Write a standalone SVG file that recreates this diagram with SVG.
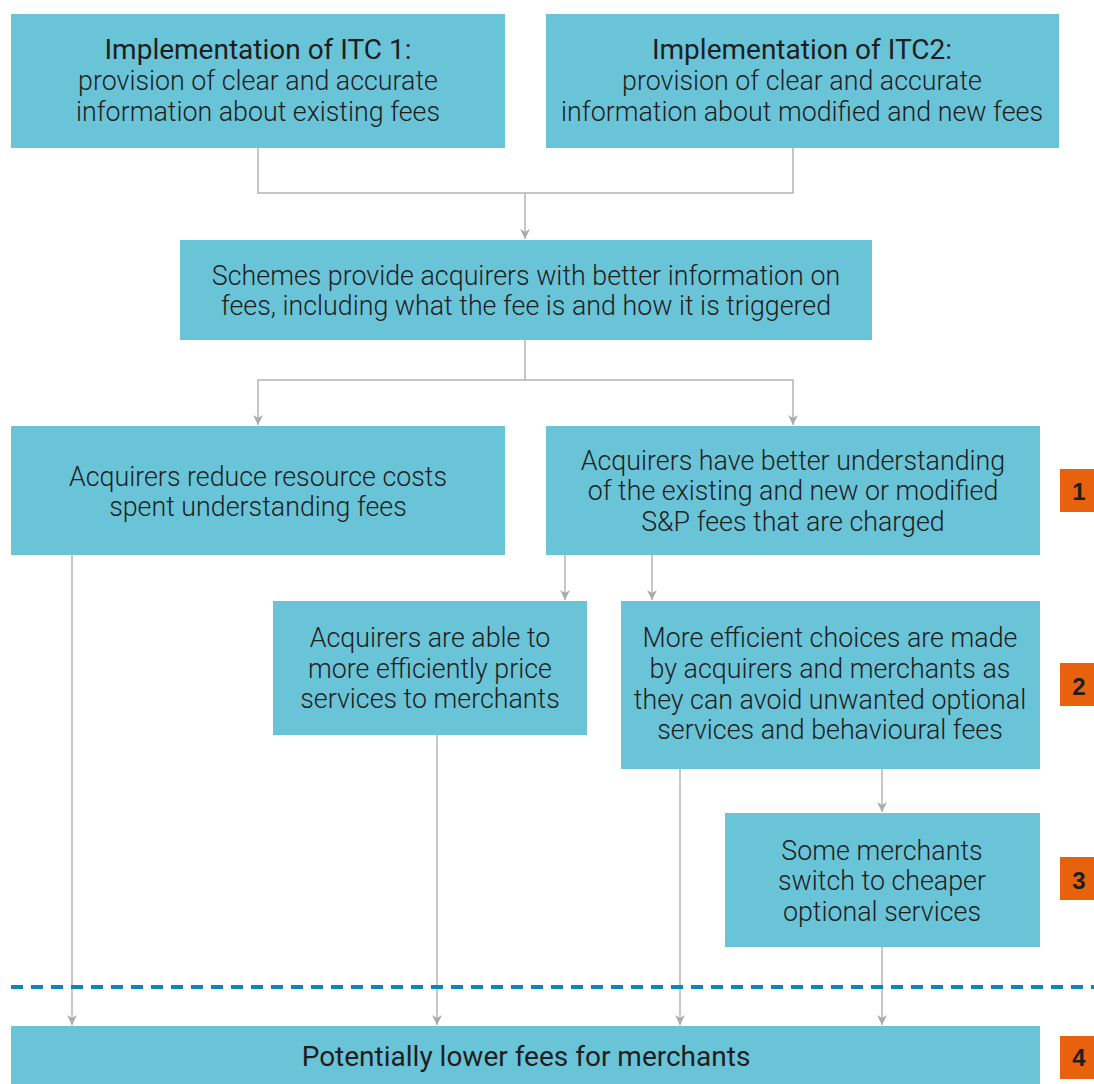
<svg xmlns="http://www.w3.org/2000/svg" width="1094" height="1084" viewBox="0 0 1094 1084">
<style>
.box{fill:#6ac4d8}
.t{font-family:Roboto,"Liberation Sans",sans-serif;font-weight:300;font-size:26.8px;fill:#1e1e1e;text-anchor:middle}
.b{font-weight:400;font-size:28px}
.badge{fill:#e8620e}
.bt{font-family:"Liberation Sans",Arial,sans-serif;font-weight:700;font-size:24px;fill:#1e1e1e;text-anchor:middle}
.c{fill:none;stroke:#b4b4b4;stroke-width:1.5}
</style>
<defs>
<marker id="ah" viewBox="0 0 10 12" refX="10" refY="6" markerWidth="10" markerHeight="12" markerUnits="userSpaceOnUse" orient="auto">
<path d="M0,1 L10,6 L0,11 L3,6 Z" fill="#aaaaaa"/>
</marker>
</defs>
<rect width="1094" height="1084" fill="#fff"/>
<g id="connectors">
<path class="c" d="M258,148 V193 H793 V148"/>
<path class="c" d="M525,193 V239" marker-end="url(#ah)"/>
<path class="c" d="M525,340 V380 H258 V425" marker-end="url(#ah)"/>
<path class="c" d="M525,380 H793 V425" marker-end="url(#ah)"/>
<path class="c" d="M565,555 V600" marker-end="url(#ah)"/>
<path class="c" d="M652,555 V600" marker-end="url(#ah)"/>
<path class="c" d="M882,769 V812" marker-end="url(#ah)"/>
<path class="c" d="M72,555 V1025" marker-end="url(#ah)"/>
<path class="c" d="M437,735 V1025" marker-end="url(#ah)"/>
<path class="c" d="M680,769 V1025" marker-end="url(#ah)"/>
<path class="c" d="M882,947 V1025" marker-end="url(#ah)"/>
</g>
<line id="divider" x1="11" y1="987" x2="1094" y2="987" stroke="#0b88b8" stroke-width="4" stroke-dasharray="12 8"/>
<g id="itc1">
<rect class="box" x="11" y="14" width="494" height="134"/>
<text class="t b" x="258" y="59">Implementation of ITC 1:</text>
<text class="t" x="258" y="90">provision of clear and accurate</text>
<text class="t" x="258" y="121">information about existing fees</text>
</g>
<g id="itc2">
<rect class="box" x="546" y="14" width="513" height="134"/>
<text class="t b" x="802" y="59">Implementation of ITC2:</text>
<text class="t" x="802" y="90">provision of clear and accurate</text>
<text class="t" x="802" y="121">information about modified and new fees</text>
</g>
<g id="schemes">
<rect class="box" x="180" y="240" width="692" height="100"/>
<text class="t" x="526" y="285">Schemes provide acquirers with better information on</text>
<text class="t" x="526" y="315">fees, including what the fee is and how it is triggered</text>
</g>
<g id="reduce">
<rect class="box" x="11" y="426" width="494" height="129"/>
<text class="t" x="258" y="486">Acquirers reduce resource costs</text>
<text class="t" x="258" y="516">spent understanding fees</text>
</g>
<g id="understand">
<rect class="box" x="546" y="426" width="494" height="129"/>
<text class="t" x="793" y="470">Acquirers have better understanding</text>
<text class="t" x="793" y="500">of the existing and new or modified</text>
<text class="t" x="793" y="531">S&amp;P fees that are charged</text>
</g>
<g id="price">
<rect class="box" x="273" y="601" width="314" height="134"/>
<text class="t" x="430" y="647">Acquirers are able to</text>
<text class="t" x="430" y="678">more efficiently price</text>
<text class="t" x="430" y="708">services to merchants</text>
</g>
<g id="choices">
<rect class="box" x="621" y="601" width="419" height="168"/>
<text class="t" x="830" y="647">More efficient choices are made</text>
<text class="t" x="830" y="678">by acquirers and merchants as</text>
<text class="t" x="830" y="709">they can avoid unwanted optional</text>
<text class="t" x="830" y="739">services and behavioural fees</text>
</g>
<g id="switch">
<rect class="box" x="725" y="813" width="315" height="134"/>
<text class="t" x="882" y="860">Some merchants</text>
<text class="t" x="882" y="890">switch to cheaper</text>
<text class="t" x="882" y="921">optional services</text>
</g>
<g id="lower">
<rect class="box" x="11" y="1026" width="1029" height="58"/>
<text class="t b" x="526" y="1066">Potentially lower fees for merchants</text>
</g>
<g id="badge1"><rect class="badge" x="1060" y="469" width="34" height="43"/><text class="bt" x="1079" y="500">1</text></g>
<g id="badge2"><rect class="badge" x="1060" y="663" width="34" height="43"/><text class="bt" x="1079" y="695">2</text></g>
<g id="badge3"><rect class="badge" x="1060" y="857" width="34" height="43"/><text class="bt" x="1079" y="889">3</text></g>
<g id="badge4"><rect class="badge" x="1060" y="1036" width="34" height="43"/><text class="bt" x="1079" y="1066">4</text></g>
</svg>
